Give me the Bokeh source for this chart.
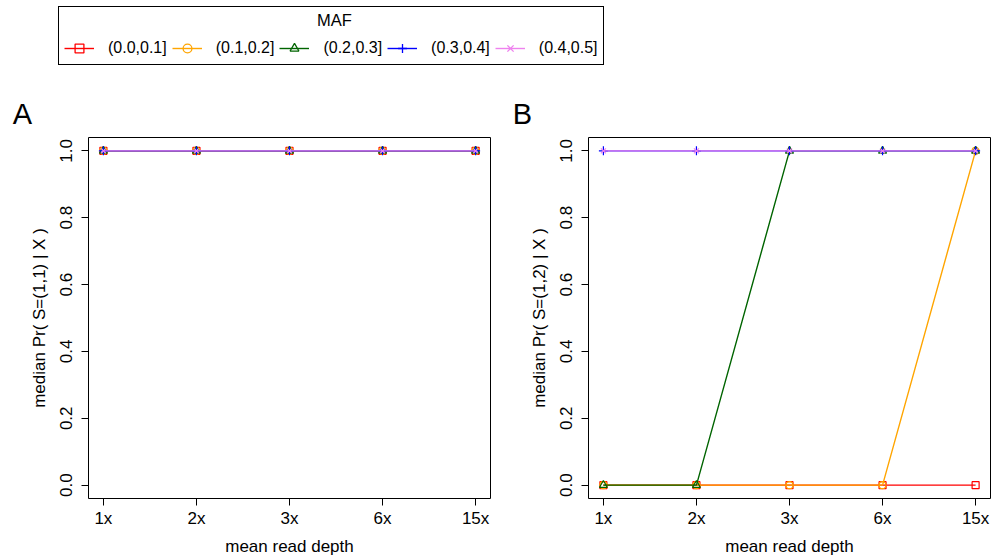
from bokeh.plotting import figure
from bokeh.models import (Range1d, FixedTicker, Legend, LegendItem, Label,
                          NumeralTickFormatter)
from bokeh.layouts import column, row
from bokeh.embed import file_html
from bokeh.resources import INLINE

# ---------------- data ----------------
depth_labels = ["1x", "2x", "3x", "6x", "15x"]
depth_pos = [1, 2, 3, 4, 5]
maf_bins = ["(0.0,0.1]", "(0.1,0.2]", "(0.2,0.3]", "(0.3,0.4]", "(0.4,0.5]"]
y_ticks = [0.0, 0.2, 0.4, 0.6, 0.8, 1.0]

# Panel A: median Pr(S=(1,1) | X)
a_maf_00_01 = [1.0, 1.0, 1.0, 1.0, 1.0]
a_maf_01_02 = [1.0, 1.0, 1.0, 1.0, 1.0]
a_maf_02_03 = [1.0, 1.0, 1.0, 1.0, 1.0]
a_maf_03_04 = [1.0, 1.0, 1.0, 1.0, 1.0]
a_maf_04_05 = [1.0, 1.0, 1.0, 1.0, 1.0]

# Panel B: median Pr(S=(1,2) | X)
b_maf_00_01 = [0.0, 0.0, 0.0, 0.0, 0.0]
b_maf_01_02 = [0.0, 0.0, 0.0, 0.0, 1.0]
b_maf_02_03 = [0.0, 0.0, 1.0, 1.0, 1.0]
b_maf_03_04 = [1.0, 1.0, 1.0, 1.0, 1.0]
b_maf_04_05 = [1.0, 1.0, 1.0, 1.0, 1.0]

# ---------------- style ----------------
FONT = "Liberation Sans"
AX_FS = "17px"
colors = ["red", "orange", "darkgreen", "blue", "violet"]
markers = ["square", "circle", "triangle", "cross", "x"]
msizes = [7, 7, 8, 9, 7]
LW = 1.4


def make_panel(series, ylabel, width, right_border):
    p = figure(width=width, height=430,
               x_range=Range1d(0.84, 5.16), y_range=Range1d(-0.04, 1.04),
               output_backend="svg", toolbar_location=None,
               min_border_left=88, min_border_right=right_border,
               min_border_top=7, min_border_bottom=62)
    p.xgrid.visible = False
    p.ygrid.visible = False
    p.outline_line_color = "black"
    p.outline_line_alpha = 1
    p.outline_line_width = 1

    for ax in (p.xaxis[0], p.yaxis[0]):
        ax.axis_line_color = None
        ax.minor_tick_line_color = None
        ax.major_tick_in = 0
        ax.major_tick_out = 7
        ax.major_tick_line_color = "black"
        ax.major_label_text_font = FONT
        ax.major_label_text_font_size = AX_FS
        ax.major_label_text_color = "black"
        ax.axis_label_text_font = FONT
        ax.axis_label_text_font_size = AX_FS
        ax.axis_label_text_font_style = "normal"
        ax.axis_label_text_color = "black"

    p.xaxis.ticker = FixedTicker(ticks=depth_pos)
    p.xaxis.major_label_overrides = {pos: lab for pos, lab in zip(depth_pos, depth_labels)}
    p.xaxis.axis_label = "mean read depth"
    p.xaxis.major_label_standoff = 3
    p.xaxis.axis_label_standoff = 6

    p.yaxis.ticker = FixedTicker(ticks=y_ticks)
    p.yaxis.formatter = NumeralTickFormatter(format="0.0")
    p.yaxis.major_label_orientation = "vertical"
    p.yaxis.axis_label = ylabel
    p.yaxis.major_label_standoff = 9
    p.yaxis.axis_label_standoff = 9

    for vals, c, m, s in zip(series, colors, markers, msizes):
        p.line(depth_pos, vals, line_color=c, line_width=LW)
        p.scatter(depth_pos, vals, marker=m, size=s, line_color=c,
                  fill_color=None, line_width=1.2)
    return p


series_a = [a_maf_00_01, a_maf_01_02, a_maf_02_03, a_maf_03_04, a_maf_04_05]
series_b = [b_maf_00_01, b_maf_01_02, b_maf_02_03, b_maf_03_04, b_maf_04_05]

pA = make_panel(series_a, "median Pr( S=(1,1) | X )", 500, 10)
pB = make_panel(series_b, "median Pr( S=(1,2) | X )", 494, 4)

# ---------------- top strip with legend and panel letters ----------------
top = figure(width=994, height=130, x_range=Range1d(0, 994), y_range=Range1d(130, 0),
             output_backend="svg", toolbar_location=None,
             min_border_left=0, min_border_right=0, min_border_top=0, min_border_bottom=0)
top.axis.visible = False
top.xgrid.visible = False
top.ygrid.visible = False
top.outline_line_color = None
# a range that keeps the legend-key renderers' own marks off the canvas
top.extra_x_ranges = {"keys": Range1d(100, 200)}

items = []
for lab, vals, c, m in zip(maf_bins, series_b, colors, markers):
    r1 = top.line(depth_pos, vals, line_color=c, line_width=LW, x_range_name="keys")
    r2 = top.scatter(depth_pos, vals, marker=m, line_color=c, fill_color=None,
                     line_width=1.3, x_range_name="keys")
    items.append(LegendItem(label=lab, renderers=[r1, r2]))

leg = Legend(items=items, orientation="horizontal", location=(58, 65),
             title="MAF", title_text_alpha=0, title_text_font=FONT,
             title_text_font_size="16px", title_standoff=7,
             label_text_font=FONT, label_text_font_size="16px", label_text_color="black",
             glyph_width=30, glyph_height=22, label_height=22, label_standoff=14,
             spacing=5, padding=5, margin=0,
             border_line_color="black", border_line_width=1, border_line_alpha=1,
             background_fill_alpha=0)
top.add_layout(leg)

top.add_layout(Label(x=334, y=19, text="MAF", text_align="center", text_baseline="middle",
                     text_font=FONT, text_font_size="16.5px", text_color="black"))
top.add_layout(Label(x=22, y=113, text="A", text_align="center", text_baseline="middle",
                     text_font=FONT, text_font_size="29px", text_color="black"))
top.add_layout(Label(x=522, y=113, text="B", text_align="center", text_baseline="middle",
                     text_font=FONT, text_font_size="29px", text_color="black"))

layout = column(top, row(pA, pB, spacing=0), spacing=0)

open("out.html", "w").write(file_html(layout, INLINE))
